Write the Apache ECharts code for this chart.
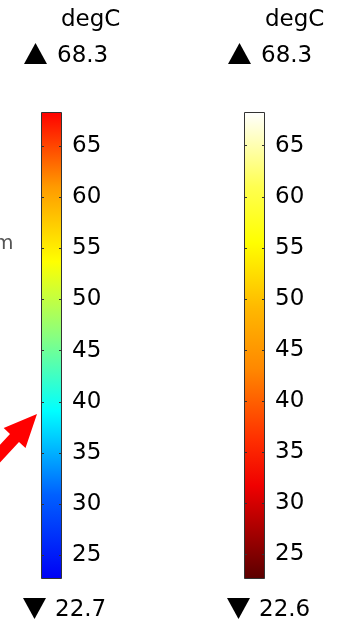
<!DOCTYPE html>
<html>
<head>
<meta charset="utf-8">
<script src="https://cdn.jsdelivr.net/npm/echarts@6/dist/echarts.min.js"></script>
<style>
  html, body { margin: 0; padding: 0; background: #fff; }
  #chart { width: 337px; height: 621px; }
</style>
</head>
<body>
<div id="chart"></div>
<script>
// Temperature colour legends: two colour bars sharing the same unit.
const unit = 'degC';
const rangeMin = [22.7, 22.6];
const rangeMax = [68.3, 68.3];
const tickValues = [25, 30, 35, 40, 45, 50, 55, 60, 65];

// Colour tables, bottom (0) to top (1)
const rainbowStops = [
  [0.00, '#0000f5'],
  [0.18, '#0060ff'],
  [0.36, '#00ffff'],
  [0.52, '#88ff80'],
  [0.68, '#ffff00'],
  [0.84, '#ff9a00'],
  [1.00, '#ff0000']
];
const thermalStops = [
  [0.00, '#5a0000'],
  [0.20, '#f00000'],
  [0.30, '#ff3000'],
  [0.45, '#ff8800'],
  [0.58, '#ffb800'],
  [0.72, '#ffff00'],
  [0.84, '#ffff50'],
  [1.00, '#ffffff']
];

const font = 'DejaVu Sans';
const textColor = '#000';
const barLeft = [41, 244];
const barWidth = 21;
const barTop = 112;
const barBottom = 42;

function gradient(stops) {
  return new echarts.graphic.LinearGradient(0, 1, 0, 0,
    stops.map(s => ({ offset: s[0], color: s[1] })));
}
const maps = [rainbowStops, thermalStops];

const grids = [], xAxes = [], yAxes = [], series = [];
for (let i = 0; i < 2; i++) {
  grids.push({ left: barLeft[i], width: barWidth, top: barTop, bottom: barBottom });
  xAxes.push({ gridIndex: i, type: 'category', data: [unit], show: false });
  const common = {
    gridIndex: i, type: 'value', min: rangeMin[i], max: rangeMax[i], z: 10,
    axisLine: { show: false }, splitLine: { show: false },
    axisTick: { show: true, inside: true, length: 3,
      lineStyle: { color: '#333', width: 1 }, customValues: tickValues }
  };
  yAxes.push(Object.assign({}, common, { position: 'left', axisLabel: { show: false } }));
  yAxes.push(Object.assign({}, common, {
    position: 'right',
    axisLabel: { show: true, margin: 10, fontSize: 23, color: textColor,
      fontFamily: font, customValues: tickValues }
  }));
  // invisible base so the colour bar starts at the range minimum
  series.push({
    type: 'bar', xAxisIndex: i, yAxisIndex: 2 * i + 1, stack: 'bar' + i,
    data: [rangeMin[i]], barWidth: '100%', silent: true,
    itemStyle: { color: 'transparent' }
  });
  series.push({
    type: 'bar', xAxisIndex: i, yAxisIndex: 2 * i + 1, stack: 'bar' + i,
    data: [+(rangeMax[i] - rangeMin[i]).toFixed(2)], barWidth: '100%', silent: true,
    itemStyle: { color: gradient(maps[i]), borderColor: '#333', borderWidth: 1 }
  });
}

// headings, max/min markers and annotations
const titleX = [61, 265];
const markX = [24, 228];
const valueX = [57, 261];
const graphic = [];
for (let i = 0; i < 2; i++) {
  graphic.push({
    type: 'text', left: titleX[i], top: 9,
    style: { text: unit, font: '23px "DejaVu Sans"', fill: textColor }
  });
  graphic.push({
    type: 'polygon',
    shape: { points: [[markX[i], 64], [markX[i] + 23, 64], [markX[i] + 11.5, 43]] },
    style: { fill: '#000' }
  });
  graphic.push({
    type: 'text', left: valueX[i], top: 45,
    style: { text: rangeMax[i].toFixed(1), font: '23px "DejaVu Sans"', fill: textColor }
  });
  graphic.push({
    type: 'polygon',
    shape: { points: [[markX[i] - 1, 598], [markX[i] + 22, 598], [markX[i] + 10.5, 619]] },
    style: { fill: '#000' }
  });
  graphic.push({
    type: 'text', left: valueX[i] - 2, top: 599,
    style: { text: rangeMin[i].toFixed(1), font: '23px "DejaVu Sans"', fill: textColor }
  });
}
// clipped unit text at the left edge
graphic.push({
  type: 'text', left: -6, top: 234,
  style: { text: 'm', font: '20px "DejaVu Sans"', fill: '#555' }
});
// red pointer arrow
graphic.push({
  type: 'polygon',
  shape: { points: [[37, 414], [25.5, 448], [19, 442], [-8, 471], [-17, 463], [10, 434], [3.7, 428]] },
  style: { fill: '#ff0000' }
});

const chart = echarts.init(document.getElementById('chart'), null, { renderer: 'canvas' });
chart.setOption({
  animation: false,
  backgroundColor: '#fff',
  grid: grids, xAxis: xAxes, yAxis: yAxes, series: series,
  graphic: graphic
});
</script>
</body>
</html>
